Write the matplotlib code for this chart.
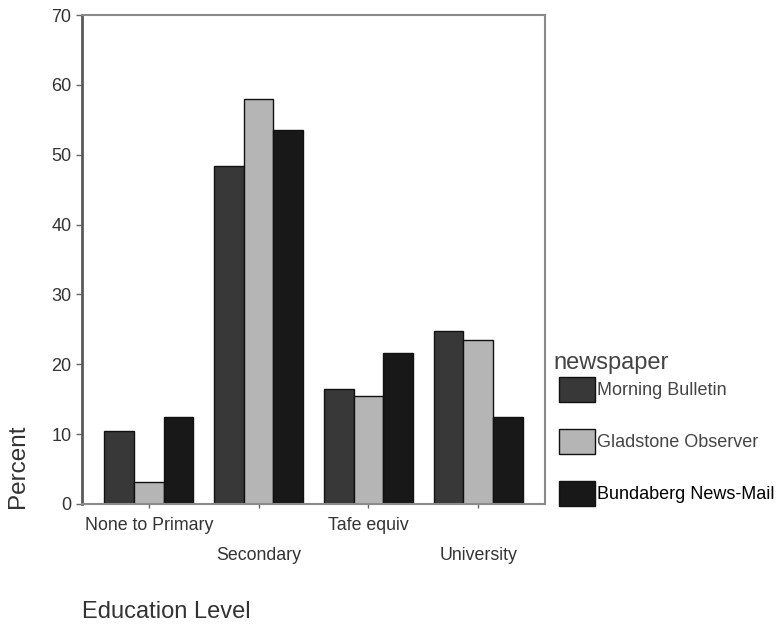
import matplotlib
matplotlib.use("Agg")
import matplotlib.pyplot as plt
import matplotlib.transforms as mtransforms
import numpy as np

categories = ["None to Primary", "Secondary", "Tafe equiv", "University"]
series_names = ["Morning Bulletin", "Gladstone Observer", "Bundaberg News-Mail"]
morning_bulletin = [10.5, 48.4, 16.5, 24.7]
gladstone_observer = [3.2, 58.0, 15.4, 23.5]
bundaberg_news_mail = [12.5, 53.6, 21.6, 12.5]
y_ticks = [0, 10, 20, 30, 40, 50, 60, 70]

colors = ["#383838", "#b5b5b5", "#181818"]
values = [morning_bulletin, gladstone_observer, bundaberg_news_mail]

plt.rcParams["font.family"] = ["Liberation Sans", "DejaVu Sans"]

W, H = 784, 624
fig = plt.figure(figsize=(W / 100, H / 100), dpi=100)
left, right, top, bottom = 82, 545, 15, 504
ax = fig.add_axes([left / W, 1 - bottom / H, (right - left) / W, (bottom - top) / H])

x = np.arange(len(categories))
width = 0.27
handles = []
for i, (name, vals, c) in enumerate(zip(series_names, values, colors)):
    b = ax.bar(x + (i - 1) * width, vals, width, color=c, edgecolor="#111111",
               linewidth=1.0, label=name)
    handles.append(b)

ax.set_xlim(-0.61, 3.61)
ax.set_ylim(0, 70)
ax.set_yticks(y_ticks)
ax.set_yticklabels([str(t) for t in y_ticks], fontsize=13, color="#333333")
ax.set_xticks(x)
ax.set_xticklabels([])
ax.tick_params(axis="y", direction="out", length=4, width=1, color="#666666", pad=3.5)
ax.tick_params(axis="x", direction="out", length=3, width=1, color="#666666")

for spine in ["top", "right", "bottom"]:
    ax.spines[spine].set_color("#8a8a8a")
    ax.spines[spine].set_linewidth(1.5)
ax.spines["left"].set_color("#5a5a5a")
ax.spines["left"].set_linewidth(2)

# staggered category labels
blend = mtransforms.blended_transform_factory(ax.transData, fig.transFigure)
for i, cat in enumerate(categories):
    ypix = 525 if i % 2 == 0 else 556
    ax.text(i, 1 - ypix / H, cat, transform=blend,
            ha="center", va="center", fontsize=12.8, color="#333333")

fig.text(82 / W, 1 - 612 / H, "Education Level", ha="left", va="center",
         fontsize=17, color="#333333")
fig.text(18 / W, 1 - 466 / H, "Percent", ha="center", va="center", rotation=90,
         fontsize=17.5, color="#333333")

fig.text(553 / W, 1 - 363 / H, "newspaper", ha="left", va="center",
         fontsize=17, color="#444444")

leg = fig.legend(handles=handles, labels=series_names, loc="upper left",
                 bbox_to_anchor=(559 / W, 1 - 377 / H), frameon=False,
                 fontsize=13, handlelength=2.0, handleheight=1.75,
                 labelspacing=1.5, handletextpad=0.1, borderpad=0,
                 borderaxespad=0)
for t in leg.get_texts()[:2]:
    t.set_color("#444444")
leg.get_texts()[2].set_color("black")

fig.savefig("out.png", dpi=100, facecolor="white")
